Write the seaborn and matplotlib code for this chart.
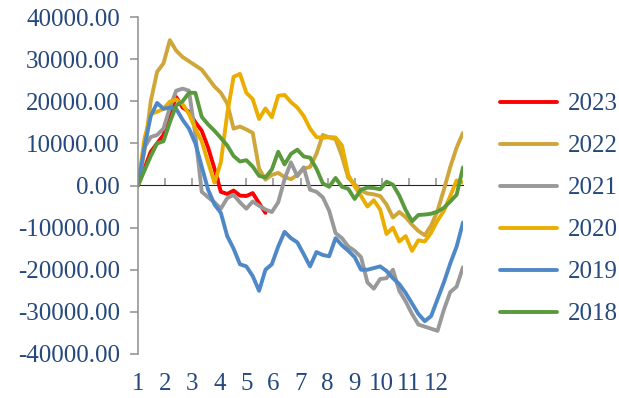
import numpy as np
import pandas as pd
import matplotlib
matplotlib.use("Agg")
import matplotlib.pyplot as plt
import seaborn as sns

# weekly values (thousands)
v2023 = [0, 4, 8, 10, 12, 17, 21, 18.5, 17.5, 15, 13, 9, 4, -1.5, -2, -1.2, -2.4, -2.5, -1.8, -4.2, -6.5]
v2022 = [0, 8, 20, 27, 29, 34.5, 32, 30.5, 29.5, 28.5, 27.5, 25.5, 23.5, 22, 19.5, 13.5, 14, 13.3,
         12.5, 4, 1.4, 2.5, 3, 2, 1.5, 2.5, 4, 4.4, 7.5, 12, 11.4, 11, 7, 1.8, 0.3, -1.2, -1.9, -2.1,
         -2.5, -4.5, -7.6, -6.3, -7.5, -9.3, -10.8, -11.8, -9.5, -6, -1, 4.4, 9, 12.5]
v2021 = [0, 9, 11.5, 12, 13.5, 18.5, 22.5, 23, 22.5, 12, -1.5, -2.8, -4, -5.5, -3, -2.2, -4, -5.5,
         -3.8, -4.8, -5.7, -6.3, -4, 1.5, 5.5, 2.2, 4.3, -1, -1.5, -2.8, -6, -11.3, -12.5, -14.5,
         -15.5, -17, -23, -24.5, -22.2, -22, -20, -25, -27.5, -30.5, -33, -33.5, -34, -34.5, -29.5,
         -25.3, -24, -19.4]
v2020 = [0, 11, 17, 17.5, 18.2, 19.9, 20.4, 19.3, 17, 13.5, 10.5, 5.5, 0.7, 5.5, 17, 25.8, 26.5,
         22, 20.5, 15.8, 18.3, 16.2, 21.3, 21.5, 19.8, 18.5, 16.5, 13.5, 11.5, 11.3, 11.5, 11.4, 9.5,
         2.5, -0.2, -2.5, -5, -3.5, -5.7, -11.5, -10, -13.3, -12, -15.5, -13, -13.3, -11.2, -8.3,
         -6, -2.5, 1.2, 0.7]
v2019 = [0, 9, 16.5, 19.6, 18.2, 18.5, 18.2, 15.6, 13.5, 10, 4.5, -1, -4.5, -6.5, -12, -15, -18.7,
         -19.2, -21.5, -25, -20, -18.7, -14.5, -11, -12.5, -13.5, -16.3, -19.2, -15.8, -16.5, -16.8,
         -12.5, -14.2, -15.5, -17, -20, -20, -19.6, -19.2, -20.3, -22, -23.4, -25.5, -28, -30.5,
         -32.2, -31, -27, -23, -18.5, -14.5, -8.8]
v2018 = [0, 3.5, 7, 10, 10.5, 15, 19, 20, 22, 22, 16.3, 14.5, 13, 11.3, 9.5, 7, 5.7, 6, 4.5, 2.3,
         1.9, 3.8, 8, 5, 7.5, 8.5, 6.9, 6.6, 4, 0.5, -0.3, 1.8, -0.3, -0.8, -3.2, -1, -0.5, -0.6,
         -0.9, 0.9, 0.2, -2.4, -5.8, -8.5, -7, -6.9, -6.7, -6.2, -5.3, -3.8, -2.2, 4.3]

years = ["2023", "2022", "2021", "2020", "2019", "2018"]
series = [v2023, v2022, v2021, v2020, v2019, v2018]
colors = ["#FF0000", "#CFA63A", "#999999", "#EBAE00", "#4F88C6", "#5A9A3C"]
month_labels = [str(m) for m in range(1, 13)]

N_WEEKS = 52
week_pos = np.linspace(1, 13, N_WEEKS)

rows = []
for yr, vals in zip(years, series):
    for i, v in enumerate(vals):
        rows.append({"year": yr, "x": week_pos[i], "value": v * 1000})
df = pd.DataFrame(rows)

sns.set_style("white")
plt.rcParams["font.family"] = ["Liberation Serif", "DejaVu Serif"]
text_color = "#25497C"
spine_color = "#8E8E8E"

fig = plt.figure(figsize=(6.19, 3.98), dpi=100)
ax = fig.add_axes([138 / 619, 1 - 354 / 398, (463 - 138) / 619, (354 - 17) / 398])

sns.lineplot(data=df, x="x", y="value", hue="year", hue_order=years,
             palette=dict(zip(years, colors)), linewidth=2.8, ax=ax,
             estimator=None, sort=False)

ax.set_xlim(1, 13)
ax.set_ylim(-40000, 40000)
ax.set_yticks(np.arange(-40000, 40001, 10000))
ax.set_yticklabels([f"{t:.2f}" for t in np.arange(-40000, 40001, 10000)])
ax.set_xticks(range(1, 13))
ax.set_xticklabels(month_labels)
ax.set_xlabel("")
ax.set_ylabel("")

for s in ["top", "right", "bottom"]:
    ax.spines[s].set_visible(False)
ax.spines["left"].set_color(spine_color)
ax.spines["left"].set_linewidth(1.1)
ax.tick_params(axis="y", direction="out", length=6, width=1.1, color=spine_color,
               labelsize=18, labelcolor=text_color, pad=7, left=True)
ax.tick_params(axis="x", length=0, labelsize=18, labelcolor=text_color, pad=14)

# zero line axis with tick marks
zero_ax = ax.secondary_xaxis(0.5)
zero_ax.set_xticks(range(2, 13))
zero_ax.set_xticklabels([])
zero_ax.spines["bottom"].set_color(spine_color)
zero_ax.spines["bottom"].set_linewidth(1.1)
zero_ax.tick_params(axis="x", direction="out", length=5, width=1.1, color=spine_color)

handles, labels = ax.get_legend_handles_labels()
ax.legend(handles, labels, loc="upper left", bbox_to_anchor=(500 / 619, 1 - 93 / 398),
          bbox_transform=fig.transFigure, frameon=False, fontsize=18, labelcolor=text_color,
          handlelength=2.3, handletextpad=0.4, labelspacing=0.78, borderpad=0, borderaxespad=0)

fig.savefig("out.png", dpi=100)
